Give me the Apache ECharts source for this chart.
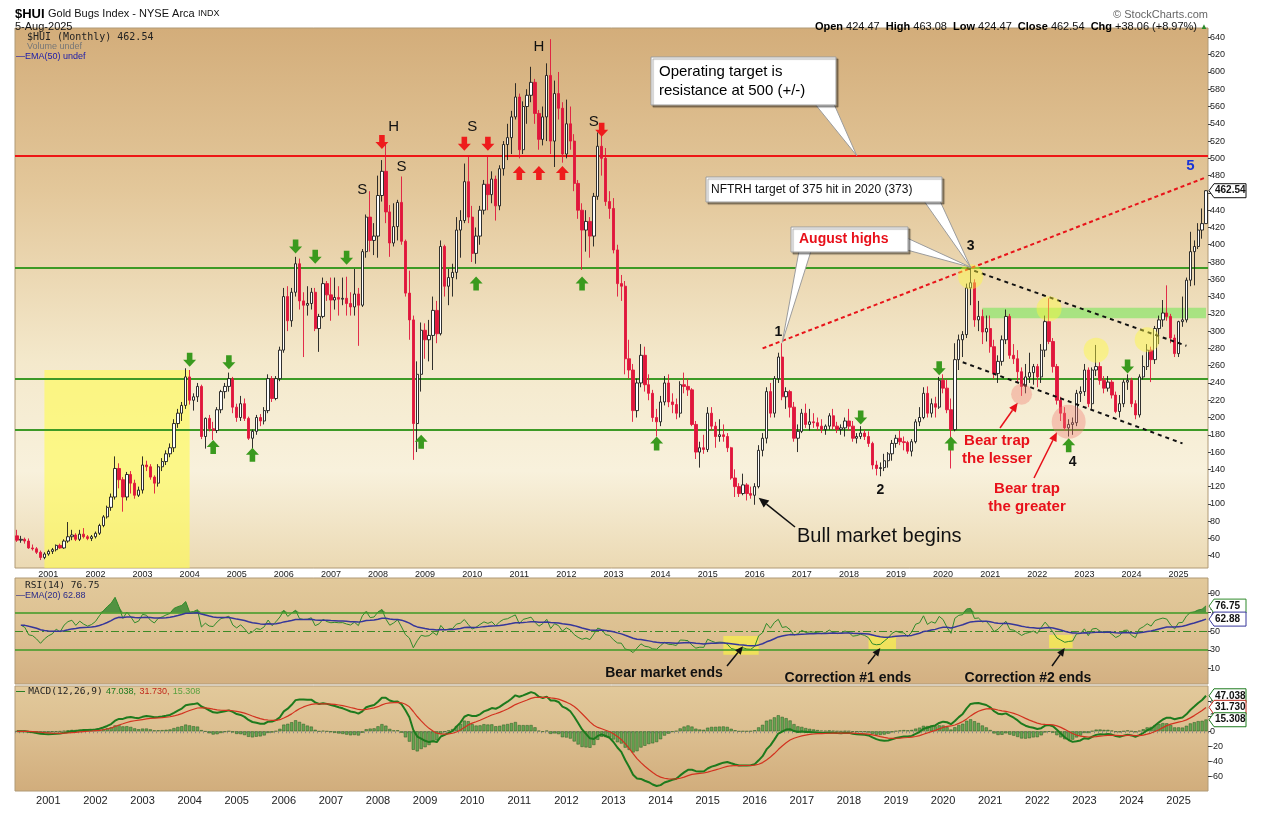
<!DOCTYPE html>
<html><head><meta charset="utf-8">
<script src="https://cdn.jsdelivr.net/npm/echarts@6/dist/echarts.min.js"></script>
<style>html,body{margin:0;padding:0;background:#fff}#c{width:1267px;height:829px}</style>
</head><body><div id="c"></div><script>
// ---------------- DATA (monthly $HUI, May 2000 .. Aug 2025) ----------------
const startYear = 2000, startMonth = 5;
const opens = [
 63,58,59,57,49,48,44,38,
 42,45,47,52,49,57,62,64,59,65,62,60,
 62,66,75,85,96,108,141,128,108,134,124,110,
 116,145,143,131,124,143,149,158,165,193,205,214,
 247,220,224,236,178,199,187,185,209,230,236,245,
 212,200,216,199,176,184,200,196,208,245,222,245,
 278,340,312,345,378,335,330,332,345,303,317,355,
 342,336,339,337,338,332,328,343,330,392,432,405,
 410,457,485,438,402,421,449,404,344,313,193,250,
 301,290,295,324,297,398,352,362,368,417,428,473,
 432,390,410,440,470,458,476,445,488,516,524,548,
 571,510,560,573,588,552,522,548,596,520,575,558,
 505,540,520,471,440,417,427,410,456,514,500,450,
 442,394,355,352,268,255,208,240,272,238,228,200,
 195,218,240,218,215,205,238,236,232,192,160,165,
 163,205,190,178,180,178,165,130,120,112,122,112,
 110,120,162,176,230,205,245,270,224,230,212,176,
 184,205,192,195,194,190,186,190,202,190,186,188,
 196,190,176,178,182,178,170,145,141,142,150,158,
 170,176,172,171,161,172,195,200,228,205,216,212,
 243,234,209,186,267,290,296,350,356,313,317,299,
 303,282,251,265,290,317,272,268,253,236,247,252,
 259,247,278,311,288,259,220,205,188,192,194,228,
 230,255,216,255,259,243,234,241,226,207,216,241,
 243,216,203,247,259,278,267,303,313,321,317,292,
 274,311,313,359,392,398,417,424.47
];
const highs = [
 70,63,61,60,53,50,46,44,
 47,49,53,54,59,79,70,66,70,72,64,64,
 68,77,87,98,112,155,147,131,137,138,128,120,
 155,150,146,133,146,153,162,170,198,210,218,257,
 255,228,240,238,200,203,195,212,232,240,252,247,
 216,225,222,201,186,203,204,212,250,248,248,282,
 350,352,350,386,384,345,352,350,350,320,362,358,
 362,362,352,362,363,345,372,350,395,435,462,425,
 480,498,518,446,448,452,479,406,370,318,265,310,
 309,313,340,335,405,400,372,378,432,440,494,502,
 445,420,445,475,502,485,480,492,520,540,555,587,
 575,566,580,606,592,556,560,610,638,590,600,565,
 568,560,528,475,448,440,432,460,530,528,512,462,
 454,400,365,358,290,262,245,285,282,250,232,210,
 225,248,250,228,222,242,252,245,234,196,172,180,
 212,212,195,198,192,182,166,140,124,135,124,120,
 124,168,182,235,240,248,275,286,235,232,218,192,
 210,216,210,205,200,198,192,205,210,195,192,200,
 210,196,182,190,186,184,172,150,148,158,160,174,
 180,185,178,173,175,198,212,235,236,222,224,247,
 250,244,222,286,296,300,355,375,360,335,325,318,
 318,290,272,295,325,320,285,278,258,262,275,262,
 262,285,318,338,292,262,224,212,198,200,232,236,
 262,258,258,284,264,248,248,244,230,226,244,250,
 246,220,250,272,285,282,306,318,336,353,320,296,
 312,340,362,415,405,425,442,463.08
];
const lows = [
 56,55,54,48,46,42,35,36,
 40,42,45,48,48,55,58,57,57,60,58,57,
 60,64,73,83,92,105,118,91,104,112,106,108,
 112,138,128,112,120,138,145,154,160,188,196,210,
 215,208,218,175,164,184,174,182,205,222,230,205,
 195,196,196,174,164,180,190,192,205,218,220,242,
 275,300,305,340,325,270,318,325,300,276,315,335,
 312,325,318,330,318,318,318,283,328,385,392,388,
 385,450,425,386,398,405,400,340,290,151,160,230,
 268,265,255,286,295,340,330,340,360,385,425,425,
 380,378,400,435,440,448,428,440,480,498,505,545,
 500,505,540,565,540,510,515,520,505,490,545,495,
 500,510,462,430,371,392,385,398,452,480,445,430,
 390,340,335,250,245,195,200,235,230,220,195,178,
 190,214,212,205,198,200,228,225,190,152,142,158,
 160,185,165,172,172,160,128,108,108,110,104,106,
 99,118,155,170,200,200,240,220,210,200,172,160,
 182,188,185,188,185,182,180,186,186,182,180,178,
 185,172,170,175,174,166,140,133,132,138,142,150,
 165,168,162,158,155,170,190,198,200,200,200,210,
 228,205,141,184,255,270,292,330,305,300,285,288,
 275,245,240,260,285,268,262,240,225,228,240,238,
 235,240,270,285,252,215,196,185,178,180,190,218,
 225,212,210,248,238,228,230,222,205,200,212,232,
 212,198,200,244,255,241,262,285,305,312,286,270,
 270,305,310,352,353,395,407,424.47
];
const closes = [
 58,59,57,49,48,44,38,42,
 45,47,52,49,57,62,64,59,65,62,60,62,
 66,75,85,96,108,141,128,108,134,124,110,116,
 145,143,131,124,143,149,158,165,193,205,214,247,
 220,224,236,178,199,187,185,209,230,236,245,212,
 200,216,199,176,184,200,196,208,245,222,245,278,
 340,312,345,378,335,330,332,345,303,317,355,342,
 336,339,337,338,332,328,343,330,392,432,405,410,
 457,485,438,402,421,449,404,344,313,193,250,301,
 290,295,324,297,398,352,362,368,417,428,473,432,
 390,410,440,470,458,476,445,488,516,524,548,571,
 510,560,573,588,552,522,548,596,520,575,558,505,
 540,520,471,440,417,427,410,456,514,500,450,442,
 394,355,352,268,255,208,240,272,238,228,200,195,
 218,240,218,215,205,238,236,232,192,160,165,163,
 205,190,178,180,178,165,130,120,112,122,112,110,
 120,162,176,230,205,245,270,224,230,212,176,184,
 205,192,195,194,190,186,190,202,190,186,188,196,
 190,176,178,182,178,170,145,141,142,150,158,170,
 176,172,171,161,172,195,200,228,205,216,212,243,
 234,209,186,267,290,296,350,356,313,317,299,303,
 282,251,265,290,317,272,268,253,236,247,252,259,
 247,278,311,288,259,220,205,188,192,194,228,230,
 255,216,255,259,243,234,241,226,207,216,241,243,
 216,203,247,259,278,267,303,313,321,317,292,274,
 311,313,359,392,398,417,424.48,462.54
];
const priceTicks = [40,60,80,100,120,140,160,180,200,220,240,260,280,300,320,340,360,380,400,420,440,460,480,500,520,540,560,580,600,620,640];
const rsiTicks = [10,30,50,70,90];
const macdTicks = [-60,-40,-20,0,20,40];
const resistanceLevel = 503;
const supportLevels = [373,245,186];
const redTrend = [[190,280],[303,478]];
const upperChannel = [[242,373],[298,283]];
const lowerChannel = [[241,264],[297,170]];
const yellowZone = [[7,255],[44,25.8]];
const greenBand = [[246,315],[303,327]];
const yellowHighlights = [[243,363],[263,326],[275,278],[288,290]];
const pinkSmall = [[256,227]];
const pinkLarge = [[268,195]];
const greenDownArrows = [[44,267],[54,264],[71,398],[76,386],[84,385],[215,200],[235,257],[283,259]];
const greenUpArrows = [[50,166],[60,157],[103,172],[117,355],[144,355],[163,170],[238,170],[268,168]];
const redDownArrows = [[93,519],[114,517],[120,517],[149,533]];
const redUpArrows = [[128,483],[133,483],[139,483]];
const patternLabels = [['S',88,464],['H',96,537],['S',98,490],['S',116,537],['H',133,629],['S',147,542]];
const waveLabels = [['1',194,299],['2',220,116],['3',243,398],['4',269,148]];
const wave5Label = [['5',299,491]];
const rsiZones = [[[180,25],[189,45]],[[217,31],[224,45]],[[263,32],[269,46]]];
const lastValues = {price:462.54, rsi:76.75, rsiEma:62.88, macd:47.038, signal:31.730, hist:15.308};

// ---------------- helpers ----------------
const categories = closes.map((_, i) => {
  const t = startMonth - 1 + i; const y = startYear + Math.floor(t / 12); const m = t % 12 + 1;
  return y + '-' + String(m).padStart(2, '0');
});
function ema(a, n) { const k = 2 / (n + 1); let e = null; return a.map(v => { if (v == null) return null; e = (e == null) ? v : e + k * (v - e); return e; }); }
function rsiCalc(c, n) {
  let g = 0, l = 0;
  for (let i = 1; i <= n; i++) { const d = c[i] - c[i - 1]; if (d > 0) g += d; else l -= d; }
  let ag = g / n, al = l / n; const out = [null];
  for (let i = 1; i < c.length; i++) {
    const d = c[i] - c[i - 1]; const gi = d > 0 ? d : 0, li = d < 0 ? -d : 0;
    ag = (ag * (n - 1) + gi) / n; al = (al * (n - 1) + li) / n;
    out.push(al === 0 ? 100 : 100 - 100 / (1 + ag / al));
  }
  return out;
}
const r2 = v => v == null ? null : Math.round(v * 100) / 100;
const rsi = rsiCalc(closes, 14).map(r2);
const rsiEma = ema(rsi, 20).map(r2);
const e12 = ema(closes, 12), e26 = ema(closes, 26);
const macd = closes.map((_, i) => r2(e12[i] - e26[i]));
const signal = ema(macd, 9).map(r2);
const hist = macd.map((v, i) => r2(v - signal[i]));
const candleData = closes.map((c, i) => [opens[i], c, lows[i], highs[i]]);

const FONT = '"Liberation Sans", Arial, sans-serif';
const LG = (stops) => new echarts.graphic.LinearGradient(0, 0, 0, 1, stops.map((c, i) => ({offset: c[0], color: c[1]})));
const mainBg = LG([[0,'#d3ad7a'],[0.3,'#e3c79a'],[0.62,'#f4e9cc'],[0.82,'#f8f1dc'],[1,'#ebd9b3']]);
const rsiBg = LG([[0,'#e2c99b'],[0.5,'#dcc091'],[1,'#d3b082']]);
const macdBg = LG([[0,'#e2c99b'],[0.5,'#dbbd8e'],[1,'#d1ad7c']]);
const DOWN = 'path://M4,0 L10,0 L10,7 L14,7 L7,14 L0,7 L4,7 Z';
const UP = 'path://M7,0 L14,7 L10,7 L10,14 L4,14 L4,7 L0,7 Z';

const chart = echarts.init(document.getElementById('c'));
const xAx = (g) => ({
  type: 'category', gridIndex: g, data: categories, boundaryGap: true,
  axisLine: {show: false},
  axisTick: {show: g === 2, interval: 0, length: 2, lineStyle: {color: '#8a8a8a'}},
  axisLabel: {show: g !== 1, interval: (i, v) => v.endsWith('-01'), formatter: v => v.slice(0, 4),
    fontSize: g === 0 ? 9 : 11, color: '#222', margin: g === 0 ? 2 : 4, fontFamily: FONT},
  splitLine: {show: false}
});
const yAx = (g, min, max, ticks) => ({
  type: 'value', gridIndex: g, position: 'right', min, max, scale: false,
  splitLine: {show: false}, axisLine: {show: false},
  axisTick: {show: true, length: 3, customValues: ticks, lineStyle: {color: '#444'}},
  axisLabel: {customValues: ticks, fontSize: 9, color: '#222', margin: 2, fontFamily: FONT}
});
const arrowSeries = (data, sym, color) => ({
  type: 'scatter', xAxisIndex: 0, yAxisIndex: 0, data, symbol: sym, symbolSize: [13, 14],
  itemStyle: {color, opacity: 1}, z: 6, silent: true
});
const textSeries = (arr, font, color, weight) => ({
  type: 'scatter', xAxisIndex: 0, yAxisIndex: 0, symbol: 'circle', symbolSize: 2,
  itemStyle: {color: 'rgba(0,0,0,0)'}, z: 7, silent: true,
  data: arr.map(a => ({name: a[0], value: [a[1], a[2]]})),
  label: {show: true, position: 'inside', formatter: p => p.name, fontSize: font, color, fontWeight: weight, fontFamily: FONT, opacity: 1}
});
const circles = (data, size, color) => ({
  type: 'scatter', xAxisIndex: 0, yAxisIndex: 0, data, symbolSize: size, itemStyle: {color}, z: 5, silent: true
});

const option = {
  animation: false,
  backgroundColor: '#ffffff',
  textStyle: {fontFamily: FONT},
  grid: [
    {left: 15, top: 28, width: 1193, height: 540, show: true, backgroundColor: mainBg, borderColor: '#b09a76', borderWidth: 1},
    {left: 15, top: 578, width: 1193, height: 106, show: true, backgroundColor: rsiBg, borderColor: '#b09a76', borderWidth: 1},
    {left: 15, top: 686, width: 1193, height: 105, show: true, backgroundColor: macdBg, borderColor: '#b09a76', borderWidth: 1}
  ],
  xAxis: [xAx(0), xAx(1), xAx(2)],
  yAxis: [yAx(0, 25.8, 650.9, priceTicks), yAx(1, -6.3, 106.7, rsiTicks), yAx(2, -79.1, 60, macdTicks)],
  series: [
    {
      type: 'candlestick', xAxisIndex: 0, yAxisIndex: 0, data: candleData, barWidth: '72%', z: 3,
      itemStyle: {color: '#ffffff', color0: '#e0163c', borderColor: '#1b1b1b', borderColor0: '#e0163c', borderWidth: 0.9},
      markLine: {
        silent: true, symbol: ['none', 'none'], label: {show: false}, z: 2,
        data: [{yAxis: resistanceLevel, lineStyle: {color: '#ee1515', width: 2, type: 'solid'}}]
          .concat(supportLevels.map(v => ({yAxis: v, lineStyle: {color: '#3d9a26', width: 2, type: 'solid'}})))
      },
      markArea: {
        silent: true, z: 1,
        data: [
          [{xAxis: categories[yellowZone[0][0]], yAxis: yellowZone[0][1], itemStyle: {color: 'rgba(255,252,80,0.6)'}},
           {xAxis: categories[yellowZone[1][0]], yAxis: yellowZone[1][1]}],
          [{xAxis: categories[greenBand[0][0]], yAxis: greenBand[0][1], itemStyle: {color: 'rgba(110,230,80,0.55)'}},
           {xAxis: categories[greenBand[1][0]], yAxis: greenBand[1][1]}]
        ]
      }
    },
    {type: 'line', xAxisIndex: 0, yAxisIndex: 0, data: redTrend, symbol: 'none', z: 4, silent: true,
      lineStyle: {color: '#e8141a', width: 2, type: [4, 3]}},
    {type: 'line', xAxisIndex: 0, yAxisIndex: 0, data: upperChannel, symbol: 'none', z: 4, silent: true,
      lineStyle: {color: '#111', width: 2, type: [4, 4]}},
    {type: 'line', xAxisIndex: 0, yAxisIndex: 0, data: lowerChannel, symbol: 'none', z: 4, silent: true,
      lineStyle: {color: '#111', width: 2, type: [4, 4]}},
    circles(yellowHighlights, 25, 'rgba(255,250,60,0.55)'),
    circles(pinkSmall, 21, 'rgba(240,120,110,0.45)'),
    circles(pinkLarge, 34, 'rgba(240,120,110,0.45)'),
    arrowSeries(greenDownArrows, DOWN, '#3a9a1e'),
    arrowSeries(greenUpArrows, UP, '#3a9a1e'),
    arrowSeries(redDownArrows, DOWN, '#ee1c1c'),
    arrowSeries(redUpArrows, UP, '#ee1c1c'),
    textSeries(patternLabels, 15, '#111', 'normal'),
    textSeries(waveLabels, 14, '#111', 'bold'),
    textSeries(wave5Label, 15, '#1a35d8', 'bold'),
    // RSI panel
    {type: 'line', xAxisIndex: 1, yAxisIndex: 1, data: rsi.map(v => v == null ? null : 70), stack: 'ob', symbol: 'none',
      lineStyle: {opacity: 0}, silent: true, z: 2},
    {type: 'line', xAxisIndex: 1, yAxisIndex: 1, data: rsi.map(v => v == null ? null : Math.max(v - 70, 0)), stack: 'ob', symbol: 'none',
      lineStyle: {opacity: 0}, areaStyle: {color: '#3a8a32', opacity: 0.85}, silent: true, z: 2},
    {type: 'line', xAxisIndex: 1, yAxisIndex: 1, data: rsi, symbol: 'none', z: 4, silent: true,
      lineStyle: {color: '#2f8a2a', width: 1},
      markLine: {silent: true, symbol: ['none', 'none'], label: {show: false},
        data: [{yAxis: 70, lineStyle: {color: '#3d9a26', width: 1.5, type: 'solid'}},
               {yAxis: 30, lineStyle: {color: '#3d9a26', width: 1.5, type: 'solid'}},
               {yAxis: 50, lineStyle: {color: '#3d8a26', width: 1, type: [8, 3, 2, 3]}}]},
      markArea: {silent: true, itemStyle: {color: 'rgba(255,250,60,0.6)'},
        data: rsiZones.map(z => [{xAxis: categories[z[0][0]], yAxis: z[0][1]}, {xAxis: categories[z[1][0]], yAxis: z[1][1]}])}},
    {type: 'line', xAxisIndex: 1, yAxisIndex: 1, data: rsiEma, symbol: 'none', z: 5, silent: true,
      lineStyle: {color: '#36369a', width: 1.5}},
    // MACD panel
    {type: 'bar', xAxisIndex: 2, yAxisIndex: 2, data: hist, barWidth: '80%', silent: true, z: 2,
      itemStyle: {color: '#66a552', borderColor: '#2b5a22', borderWidth: 0.5}},
    {type: 'line', xAxisIndex: 2, yAxisIndex: 2, data: macd, symbol: 'none', z: 4, silent: true,
      lineStyle: {color: '#1d7a1d', width: 2}},
    {type: 'line', xAxisIndex: 2, yAxisIndex: 2, data: signal, symbol: 'none', z: 5, silent: true,
      lineStyle: {color: '#d2321f', width: 1.2}}
  ]
};
chart.setOption(option);

// ---------------- annotations (anchored to data via the axes) ----------------
const P = (g, x, y) => chart.convertToPixel({xAxisIndex: g, yAxisIndex: g}, [x, y]);
const F = (w, s) => (w ? w + ' ' : '') + s + 'px ' + FONT;
const G = [];
const txt = (x, y, text, font, fill, align, extra) => G.push({type: 'text', x, y, z: 60,
  style: Object.assign({text, font, fill, align: align || 'left', verticalAlign: 'middle'}, extra || {})});
function arrow(x1, y1, x2, y2, color, w, h) {
  const a = Math.atan2(y2 - y1, x2 - x1); h = h || 8;
  const bx = x2 - h * Math.cos(a), by = y2 - h * Math.sin(a);
  const px = -Math.sin(a) * h * 0.45, py = Math.cos(a) * h * 0.45;
  G.push({type: 'line', z: 55, shape: {x1, y1, x2: bx, y2: by}, style: {stroke: color, lineWidth: w}});
  G.push({type: 'polygon', z: 55, shape: {points: [[x2, y2], [bx + px, by + py], [bx - px, by - py]]}, style: {fill: color}});
}
function callout(x, y, w, h, tails) {
  tails.forEach(t => G.push({type: 'polygon', z: 40, shape: {points: [t[0], t[2], t[1]]},
    style: {fill: '#ffffff', stroke: '#9c9c9c', lineWidth: 1}}));
  G.push({type: 'rect', z: 41, shape: {x, y, width: w, height: h},
    style: {fill: '#ffffff', stroke: '#9c9c9c', lineWidth: 1, shadowColor: 'rgba(0,0,0,0.35)', shadowOffsetX: 2, shadowOffsetY: 2, shadowBlur: 1}});
}
function tag(g, v, text, color) {
  const y = P(g, 0, v)[1], x = 1209;
  G.push({type: 'polygon', z: 70, shape: {points: [[x, y], [x + 5, y - 7], [x + 37, y - 7], [x + 37, y + 7], [x + 5, y + 7]]},
    style: {fill: '#ffffff', stroke: color, lineWidth: 1}});
  G.push({type: 'text', z: 71, x: x + 6, y, style: {text, font: F('bold', 10), fill: '#111', verticalAlign: 'middle'}});
}

// header
G.push({type: 'text', x: 15, y: 14, z: 60, style: {text: '{a|$HUI} {b|Gold Bugs Index - NYSE Arca} {c|INDX}', verticalAlign: 'middle',
  rich: {a: {font: F('bold', 13), fill: '#000'}, b: {font: F('', 11), fill: '#111'}, c: {font: F('', 9), fill: '#111'}}}});
txt(15, 27, '5-Aug-2025', F('', 11), '#111');
txt(1208, 15, '\u00A9 StockCharts.com', F('', 11), '#666', 'right');
G.push({type: 'text', x: 1208, y: 27, z: 60, style: {
  text: '{b|Open} 424.47  {b|High} 463.08  {b|Low} 424.47  {b|Close} 462.54  {b|Chg} +38.06 (+8.97%) {g|\u25B2}',
  align: 'right', verticalAlign: 'middle', font: F('', 11), fill: '#111',
  rich: {b: {font: F('bold', 11), fill: '#000'}, g: {font: F('', 8), fill: '#2a8a2a'}}}});
// panel legends
txt(27, 37, '$HUI (Monthly) 462.54', '10px "DejaVu Sans Mono", monospace', '#222');
txt(27, 47, 'Volume undef', F('', 9), '#777');
txt(16, 57, '\u2014EMA(50) undef', F('', 9), '#1a1aaa');
txt(25, 586, 'RSI(14) 76.75', '9.5px "DejaVu Sans Mono", monospace', '#222');
txt(16, 596, '\u2014EMA(20) 62.88', F('', 9), '#2a2a8a');
G.push({type: 'text', x: 16, y: 692, z: 60, style: {text: '{k|\u2014} {m|MACD(12,26,9)} {g|47.038,} {r|31.730,} {l|15.308}', verticalAlign: 'middle',
  rich: {k: {font: F('bold', 9), fill: '#1d7a1d'}, m: {font: '9.5px "DejaVu Sans Mono", monospace', fill: '#222'},
    g: {font: F('', 9), fill: '#1d7a1d'}, r: {font: F('', 9), fill: '#c0281a'}, l: {font: F('', 9), fill: '#5aa040'}}}});

// callouts
const tipOp = P(0, 214, 503), tip3 = P(0, 243, 374), tip1 = P(0, 195, 287);
callout(651, 57, 185, 48, [[[815, 104], [834, 104], tipOp]]);
txt(659, 72, 'Operating target is', F('', 15), '#000');
txt(659, 91, 'resistance at 500 (+/-)', F('', 15), '#000');
callout(706, 177, 236, 25, [[[924, 201], [940, 201], tip3]]);
txt(711, 189.5, 'NFTRH target of 375 hit in 2020 (373)', F('', 12), '#111');
callout(791, 227, 117, 25, [[[799, 251], [811, 251], tip1], [[907, 238], [907, 250], tip3]]);
txt(799, 239.5, 'August highs', F('bold', 14), '#e8101a');

// bull market / bear traps
txt(797, 536, 'Bull market begins', F('', 20), '#111');
const tipBull = P(0, 189, 107);
arrow(795, 527, tipBull[0], tipBull[1], '#111', 1.6, 10);
txt(997, 441, 'Bear trap', F('bold', 15), '#e8101a', 'center');
txt(997, 459, 'the lesser', F('bold', 15), '#e8101a', 'center');
const tipL = P(0, 255, 217);
arrow(1000, 428, tipL[0], tipL[1], '#e8101a', 1.5, 9);
txt(1027, 489, 'Bear trap', F('bold', 15), '#e8101a', 'center');
txt(1027, 507, 'the greater', F('bold', 15), '#e8101a', 'center');
const tipG = P(0, 265, 183);
arrow(1034, 478, tipG[0], tipG[1], '#e8101a', 1.5, 9);

// RSI panel notes
txt(664, 673, 'Bear market ends', F('bold', 14), '#111', 'center');
txt(848, 678, 'Correction #1 ends', F('bold', 14), '#111', 'center');
txt(1028, 678, 'Correction #2 ends', F('bold', 14), '#111', 'center');
const rt1 = P(1, 185, 34), rt2 = P(1, 220, 32), rt3 = P(1, 267, 32);
arrow(727, 666, rt1[0], rt1[1], '#111', 1.5, 8);
arrow(868, 664, rt2[0], rt2[1], '#111', 1.5, 8);
arrow(1052, 666, rt3[0], rt3[1], '#111', 1.5, 8);

// last-value tags
tag(0, lastValues.price, '462.54', '#111');
tag(1, lastValues.rsi, '76.75', '#2f8a2a');
tag(1, lastValues.rsiEma, '62.88', '#36369a');
tag(2, lastValues.macd, '47.038', '#1d7a1d');
tag(2, lastValues.signal, '31.730', '#c0281a');
tag(2, lastValues.hist, '15.308', '#1d7a1d');

chart.setOption({graphic: G});
</script></body></html>
